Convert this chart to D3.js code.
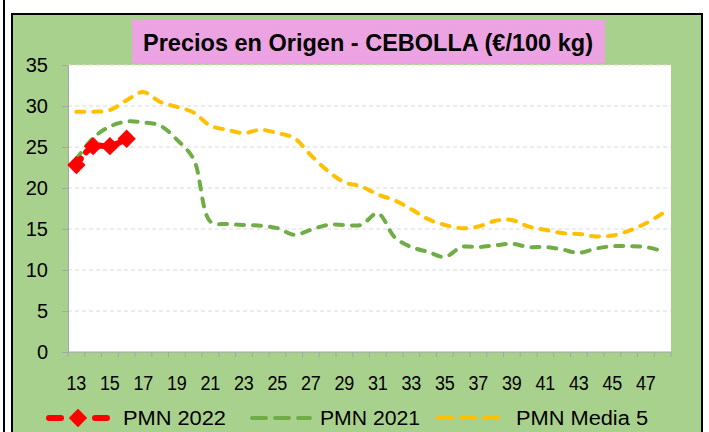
<!DOCTYPE html>
<html>
<head>
<meta charset="utf-8">
<script src="https://cdn.jsdelivr.net/npm/d3@7"></script>
<style>
  body { margin: 0; background: #fff; }
  text { font-family: "Liberation Sans", Arial, sans-serif; }
</style>
</head>
<body>
<div id="chart"></div>
<script>
// chart data
var weeks = d3.range(13, 49);
var tickLabels = d3.range(13, 49, 2);
var yTicks = [0, 5, 10, 15, 20, 25, 30, 35];

var pmn2022 = [22.8, 25.1, 25.1, 26.0];
var pmn2021 = [23.5, 26.1, 27.5, 28.1, 28.0, 27.6, 25.9, 23.5, 15.9, 15.6,
               15.5, 15.4, 15.1, 14.3, 14.9, 15.5, 15.5, 15.5, 16.9, 14.0,
               12.8, 12.2, 11.6, 12.8, 12.8, 13.0, 13.2, 12.8, 12.8, 12.5,
               12.1, 12.6, 12.9, 12.9, 12.8, 12.3];
var pmnMedia5 = [29.3, 29.3, 29.5, 30.7, 31.7, 30.5, 29.9, 29.2, 27.6, 27.1,
                 26.7, 27.1, 26.7, 26.1, 24.0, 22.1, 20.7, 20.2, 19.2, 18.5,
                 17.4, 16.2, 15.5, 15.1, 15.3, 16.0, 16.1, 15.3, 14.9, 14.5,
                 14.4, 14.1, 14.2, 14.8, 15.7, 16.9];

var seriesNames = ["PMN 2022", "PMN 2021", "PMN Media 5"];

var W = 709, H = 432;
var plot = { left: 68, top: 65, right: 671, bottom: 352 };

var svg = d3.select("#chart").append("svg")
    .attr("width", W)
    .attr("height", H);

// outer frame
svg.append("line")
    .attr("x1", 4).attr("x2", 4).attr("y1", 0).attr("y2", H)
    .attr("stroke", "#000").attr("stroke-width", 2);
svg.append("rect")
    .attr("x", 12).attr("y", 14).attr("width", 690).attr("height", 440)
    .attr("fill", "#A9D18E")
    .attr("stroke", "#000").attr("stroke-width", 2);

// plot area
svg.append("rect")
    .attr("x", plot.left).attr("y", plot.top)
    .attr("width", plot.right - plot.left).attr("height", plot.bottom - plot.top)
    .attr("fill", "#fff");

var x = d3.scaleBand()
    .domain(weeks)
    .range([plot.left, plot.right]);

var y = d3.scaleLinear()
    .domain([0, 35])
    .range([plot.bottom, plot.top]);

// grid lines
svg.append("g")
    .selectAll("line")
    .data(yTicks.filter(function (d) { return d > 0; }))
    .enter()
    .append("line")
    .attr("x1", plot.left).attr("x2", plot.right)
    .attr("y1", function (d) { return y(d); })
    .attr("y2", function (d) { return y(d); })
    .attr("stroke", "#D9D9D9")
    .attr("stroke-width", 1)
    .attr("stroke-dasharray", "4 3");

// y axis
var yAxis = svg.append("g")
    .attr("transform", "translate(" + plot.left + ",0)")
    .call(d3.axisLeft(y).tickValues(yTicks).tickSize(6).tickPadding(14));
yAxis.select(".domain").attr("stroke", "#A6A6A6");
yAxis.selectAll(".tick line").attr("stroke", "#A6A6A6");
yAxis.selectAll(".tick text")
    .attr("fill", "#000")
    .style("font-size", "20px")
    .style("font-family", "Liberation Sans, Arial, sans-serif");

// x axis: tick marks between categories
var xAxis = svg.append("g")
    .attr("transform", "translate(0," + plot.bottom + ")");
xAxis.append("line")
    .attr("x1", plot.left).attr("x2", plot.right)
    .attr("stroke", "#A6A6A6");
xAxis.selectAll("line.tk")
    .data(weeks.concat([49]))
    .enter()
    .append("line")
    .attr("class", "tk")
    .attr("x1", function (d) { return d === 49 ? plot.right : x(d); })
    .attr("x2", function (d) { return d === 49 ? plot.right : x(d); })
    .attr("y1", 0).attr("y2", 5)
    .attr("stroke", "#A6A6A6");
xAxis.selectAll("text")
    .data(tickLabels)
    .enter()
    .append("text")
    .attr("x", function (d) { return x(d) + x.bandwidth() / 2; })
    .attr("y", 38)
    .attr("text-anchor", "middle")
    .style("font-size", "20px")
    .attr("textLength", 20)
    .attr("lengthAdjust", "spacingAndGlyphs")
    .text(function (d) { return d; });

// lines
var line = d3.line()
    .x(function (d, i) { return x(weeks[i]) + x.bandwidth() / 2; })
    .y(function (d) { return y(d); })
    .curve(d3.curveCatmullRom.alpha(0.5));

svg.append("path")
    .datum(pmnMedia5)
    .attr("d", line)
    .attr("fill", "none")
    .attr("stroke", "#FFC000")
    .attr("stroke-width", 4)
    .attr("stroke-linecap", "round")
    .attr("stroke-dasharray", "8 9");

svg.append("path")
    .datum(pmn2021)
    .attr("d", line)
    .attr("fill", "none")
    .attr("stroke", "#70AD47")
    .attr("stroke-width", 4)
    .attr("stroke-linecap", "round")
    .attr("stroke-dasharray", "8 9");

svg.append("path")
    .datum(pmn2022)
    .attr("d", line)
    .attr("fill", "none")
    .attr("stroke", "#FF0000")
    .attr("stroke-width", 6)
    .attr("stroke-linecap", "round")
    .attr("stroke-dasharray", "8 8");

svg.selectAll("rect.mark")
    .data(pmn2022)
    .enter()
    .append("rect")
    .attr("class", "mark")
    .attr("x", -6.5).attr("y", -6.5).attr("width", 13).attr("height", 13)
    .attr("fill", "#FF0000")
    .attr("transform", function (d, i) {
        return "translate(" + (x(weeks[i]) + x.bandwidth() / 2) + "," + y(d) + ") rotate(45)";
    });

// title
svg.append("rect")
    .attr("x", 132).attr("y", 20).attr("width", 473).attr("height", 43)
    .attr("fill", "#EBA3E1");
svg.append("text")
    .attr("x", 368).attr("y", 51)
    .attr("text-anchor", "middle")
    .style("font-size", "24px")
    .style("font-weight", "bold")
    .attr("textLength", 450)
    .attr("lengthAdjust", "spacingAndGlyphs")
    .text("Precios en Origen - CEBOLLA (€/100 kg)");

// legend
var legendY = 418;
var legend = [
    { name: seriesNames[0], color: "#FF0000", x1: 46, x2: 110, tx: 123, tw: 103, marker: true },
    { name: seriesNames[1], color: "#70AD47", x1: 252, x2: 310, tx: 320, tw: 100 },
    { name: seriesNames[2], color: "#FFC000", x1: 438, x2: 506, tx: 516, tw: 132 }
];
var lg = svg.append("g").selectAll("g")
    .data(legend)
    .enter()
    .append("g");
lg.filter(function (d) { return !d.marker; })
    .append("line")
    .attr("x1", function (d) { return d.x1; })
    .attr("x2", function (d) { return d.x2; })
    .attr("y1", legendY).attr("y2", legendY)
    .attr("stroke", function (d) { return d.color; })
    .attr("stroke-width", 4)
    .attr("stroke-linecap", "round")
    .attr("stroke-dasharray", "14 9");
var red = lg.filter(function (d) { return d.marker; });
red.append("line")
    .attr("x1", function (d) { return d.x1 + 3; })
    .attr("x2", function (d) { return d.x1 + 15; })
    .attr("y1", legendY).attr("y2", legendY)
    .attr("stroke", "#FF0000").attr("stroke-width", 6)
    .attr("stroke-linecap", "round");
red.append("line")
    .attr("x1", function (d) { return d.x2 - 15; })
    .attr("x2", function (d) { return d.x2 - 3; })
    .attr("y1", legendY).attr("y2", legendY)
    .attr("stroke", "#FF0000").attr("stroke-width", 6)
    .attr("stroke-linecap", "round");
red.append("rect")
    .attr("x", -6.5).attr("y", -6.5).attr("width", 13).attr("height", 13)
    .attr("fill", "#FF0000")
    .attr("transform", function (d) {
        return "translate(" + ((d.x1 + d.x2) / 2) + "," + legendY + ") rotate(45)";
    });
lg.append("text")
    .attr("x", function (d) { return d.tx; })
    .attr("y", legendY + 7)
    .style("font-size", "20px")
    .attr("textLength", function (d) { return d.tw; })
    .attr("lengthAdjust", "spacingAndGlyphs")
    .text(function (d) { return d.name; });
</script>
</body>
</html>
